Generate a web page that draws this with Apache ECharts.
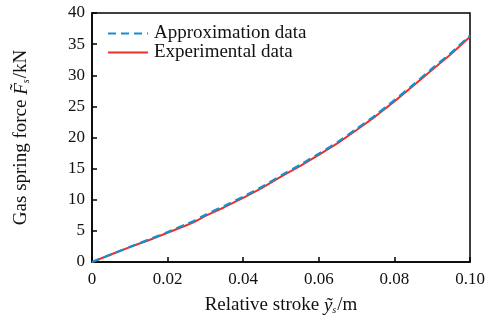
<!DOCTYPE html>
<html>
<head>
<meta charset="utf-8">
<script src="https://cdn.jsdelivr.net/npm/echarts@6/dist/echarts.min.js"></script>
<style>html,body{margin:0;padding:0;background:#fff}#c{width:491px;height:322px}</style>
</head>
<body>
<div id="c"></div>
<script>
var strokeX = [0, 0.005, 0.01, 0.015, 0.02, 0.025, 0.027, 0.03, 0.035, 0.04, 0.045, 0.05, 0.055, 0.06, 0.065, 0.07, 0.075, 0.08, 0.085, 0.09, 0.095, 0.1];
var experimental = [0, 1.2, 2.4, 3.5, 4.7, 5.9, 6.4, 7.4, 8.8, 10.3, 11.9, 13.7, 15.4, 17.2, 19.1, 21.2, 23.4, 25.8, 28.3, 30.9, 33.4, 36.2];
var approximation = [0, 1.2, 2.4, 3.6, 4.8, 6.1, 6.6, 7.6, 9.0, 10.5, 12.1, 13.9, 15.6, 17.4, 19.3, 21.4, 23.6, 26.0, 28.5, 31.1, 33.6, 36.4];
var yTicks = [0, 5, 10, 15, 20, 25, 30, 35, 40];
var xTicks = [0, 0.02, 0.04, 0.06, 0.08, 0.10];

function pairs(xs, ys){ return xs.map(function(x,i){return [x, ys[i]];}); }
var FONT = 'Liberation Serif';
var chart = echarts.init(document.getElementById('c'));
chart.setOption({
  animation: false,
  backgroundColor: '#fff',
  grid: {left: 92, right: 21, top: 13, bottom: 60, show: true, borderColor: '#000', borderWidth: 1.5, backgroundColor: 'transparent'},
  legend: {
    left: 102, top: 19, orient: 'vertical', itemGap: 0, itemWidth: 40, itemHeight: 16,
    data: ['Approximation data', 'Experimental data'],
    itemStyle: {opacity: 0},
    textStyle: {fontFamily: FONT, fontSize: 19, color: '#111', padding: [0,0,0,1]}
  },
  xAxis: {
    type: 'value', min: 0, max: 0.1, interval: 0.02,
    name: '{n|Relative stroke }{i|ỹ}{sub|s}{n|/m}',
    nameLocation: 'middle', nameGap: 34,
    nameTextStyle: {rich: {
      n: {fontFamily: FONT, fontSize: 19, color: '#111'},
      i: {fontFamily: FONT, fontSize: 19, fontStyle: 'italic', color: '#111'},
      sub: {fontFamily: FONT, fontSize: 10, fontStyle: 'italic', color: '#111', verticalAlign: 'bottom', padding: [8,1,0,0]}
    }},
    axisLine: {lineStyle: {color: '#000', width: 1.5}},
    axisTick: {inside: true, length: 5, lineStyle: {color: '#000', width: 1.5}},
    splitLine: {show: false},
    axisLabel: {fontFamily: FONT, fontSize: 17, color: '#111', margin: 9,
      formatter: function(v){ var s = xTicks.find(function(t){return Math.abs(t-v)<1e-9;}); if (s===undefined) return ''; return v===0 ? '0' : s.toFixed(2); }}
  },
  yAxis: {
    type: 'value', min: 0, max: 40, interval: 5,
    name: '{n|Gas spring force }{i|F̃}{sub|s}{n|/kN}',
    nameLocation: 'middle', nameGap: 61,
    nameTextStyle: {rich: {
      n: {fontFamily: FONT, fontSize: 19, color: '#111'},
      i: {fontFamily: FONT, fontSize: 19, fontStyle: 'italic', color: '#111'},
      sub: {fontFamily: FONT, fontSize: 10, fontStyle: 'italic', color: '#111', verticalAlign: 'bottom', padding: [8,1,0,0]}
    }},
    axisLine: {lineStyle: {color: '#000', width: 1.5}},
    axisTick: {inside: true, length: 5, lineStyle: {color: '#000', width: 1.5}},
    splitLine: {show: false},
    axisLabel: {fontFamily: FONT, fontSize: 17, color: '#111', margin: 7,
      formatter: function(v){ return yTicks.indexOf(v) >= 0 ? String(v) : ''; }}
  },
  series: [
    {name: 'Experimental data', type: 'line', data: pairs(strokeX, experimental), symbol: 'none', z: 2,
     lineStyle: {color: '#e8312a', width: 2}, itemStyle: {color: '#e8312a'}},
    {name: 'Approximation data', type: 'line', data: pairs(strokeX, approximation), symbol: 'none', z: 3, smooth: 0.2,
     lineStyle: {color: '#168fd0', width: 2.2, type: [8, 5]}, itemStyle: {color: '#168fd0'}}
  ]
});
</script>
</body>
</html>
